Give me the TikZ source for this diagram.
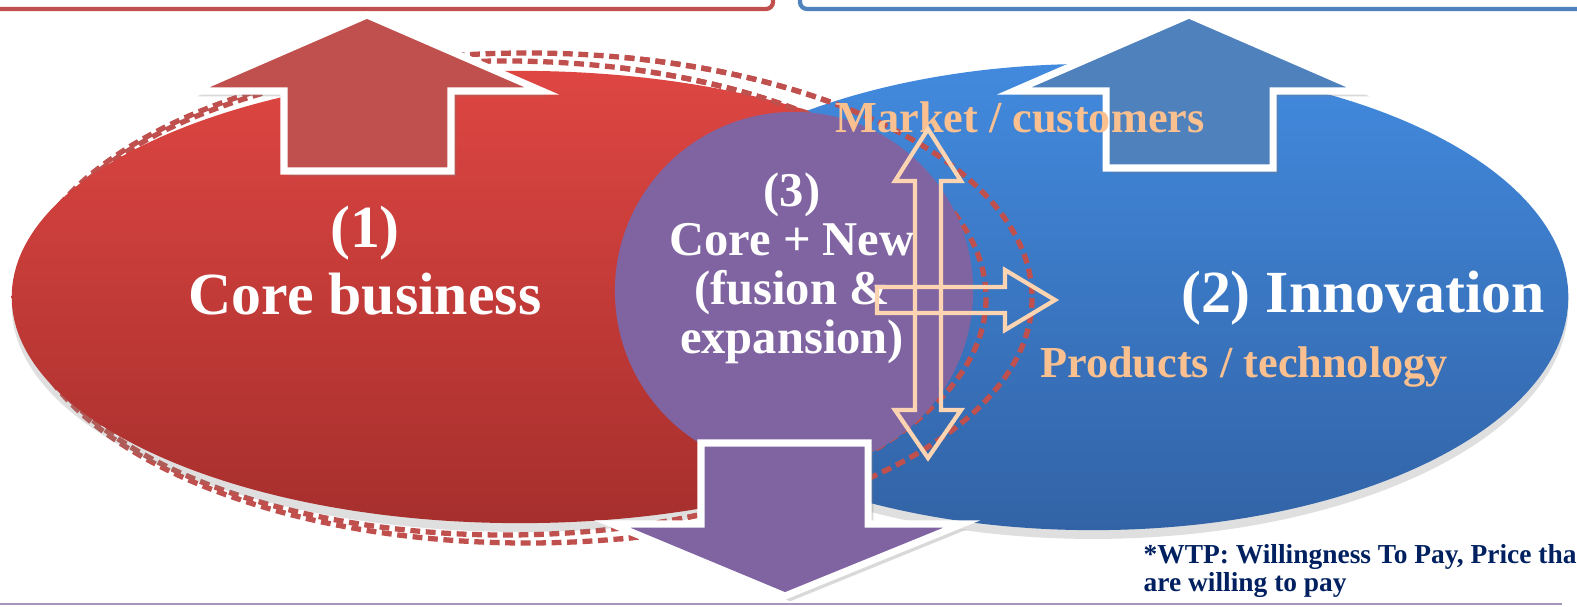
\documentclass[tikz,border=0pt]{standalone}
\usepackage{fontspec}
\setmainfont{Liberation Serif}
\usepackage{tikz}
\usetikzlibrary{shapes.geometric, shadows}

\definecolor{coreRed}{RGB}{192,80,77}
\definecolor{coreRedTop}{RGB}{222,70,66}
\definecolor{coreRedBot}{RGB}{166,47,45}
\definecolor{innoBlue}{RGB}{79,129,189}
\definecolor{innoBlueTop}{RGB}{66,138,222}
\definecolor{innoBlueBot}{RGB}{50,99,166}
\definecolor{fusionPurple}{RGB}{128,100,162}
\definecolor{peach}{RGB}{250,192,144}
\definecolor{peachLine}{RGB}{252,212,178}
\definecolor{noteNavy}{RGB}{0,32,96}

% the two dashed rings round core + fusion
\newcommand{\fusionrings}{%
  \draw[ring] (505,298) ellipse [x radius=481, y radius=237];
  \draw[ring] (527,298) ellipse [x radius=505, y radius=245];}

\begin{document}
\begin{tikzpicture}[
    x=0.01cm, y=-0.01cm,
    area/.style={ellipse, inner sep=0pt, drop shadow={opacity=0.25, shadow xshift=0pt, shadow yshift=-2.5pt}},
    ring/.style={draw=coreRed, line width=1.5pt, dash pattern=on 2.8pt off 1.6pt},
    fatarrow/.style={draw=white, line width=2pt, line join=miter, drop shadow={opacity=0.3, shadow xshift=1.5pt, shadow yshift=-1.5pt}},
    thinarrow/.style={draw=peachLine, line width=1.2pt, line join=miter},
    frame/.style={line width=1.2pt, rounded corners=2pt},
    bigtext/.style={text=white, anchor=base, inner sep=0pt, font=\fontsize{17}{20}\selectfont\bfseries},
    midtext/.style={text=white, anchor=base, inner sep=0pt, font=\fontsize{13.8}{15}\selectfont\bfseries},
    axistext/.style={text=peach, anchor=base, inner sep=0pt, font=\fontsize{12.6}{14}\selectfont\bfseries},
    note/.style={text=noteNavy, anchor=base west, inner sep=0pt, font=\fontsize{7.8}{9}\selectfont\bfseries}
]
\useasboundingbox (0,0) rectangle (1577,607);

% Boxes at the top
\draw[frame, coreRed] (-20,-40) rectangle (773,9);
\draw[frame, innoBlue] (800,-40) rectangle (1620,9);

% Rings (left part ends up behind the core area)
\fusionrings

% Core business area
\node[area, minimum width=10.16cm, minimum height=4.52cm, top color=coreRedTop, bottom color=coreRedBot] (core) at (520,297) {};

% Innovation area
\node[area, minimum width=9.5cm, minimum height=4.66cm, top color=innoBlueTop, bottom color=innoBlueBot] (inno) at (1093,297) {};

% Rings again, right part on top of innovation
\begin{scope}
  \clip (620,0) rectangle (1577,607);
  \fusionrings
\end{scope}

% Fusion area
\node[ellipse, inner sep=0pt, minimum width=3.58cm, minimum height=3.58cm, fill=fusionPurple] (fusion) at (794,291) {};

% Big arrows
\draw[fatarrow, fill=coreRed] (284,171) -- (284,91) -- (192,91) -- (367,15) -- (542,91) -- (451,91) -- (451,171) -- cycle;
\draw[fatarrow, fill=innoBlue] (1106,168) -- (1106,91) -- (1014,91) -- (1189,15) -- (1364,91) -- (1273,91) -- (1273,168) -- cycle;
\draw[fatarrow, fill=fusionPurple] (701,443) -- (868,443) -- (868,524) -- (962,524) -- (785,596) -- (612,524) -- (701,524) -- cycle;

% Labels
\node[bigtext] (one) at (365,248) {(1)};
\node[bigtext] (coretext) at (365,315) {Core business};
\node[bigtext] (innotext) at (1363,313) {(2) Innovation};
\node[midtext] (three) at (792,207) {(3)};
\node[midtext] (fusion1) at (792,256) {Core + New};
\node[midtext] (fusion2) at (792,305) {(fusion \&};
\node[midtext] (fusion3) at (792,354) {expansion)};
\node[axistext] (market) at (1020,133) {Market / customers};
\node[axistext] (products) at (1244,378) {Products / technology};

% Axes (outline arrows)
\draw[thinarrow] (915,181) -- (895,181) -- (928,129) -- (961,181) -- (941,181) -- (941,410) -- (961,410) -- (928,458) -- (895,410) -- (915,410) -- cycle;
\draw[thinarrow] (877,287) -- (1005,287) -- (1005,270) -- (1055,300) -- (1005,330) -- (1005,313) -- (877,313) -- cycle;

% Footnote
\draw[fusionPurple!70, line width=0.6pt] (0,604) -- (1562,604);
\node[note] (wtp) at (1143,563) {*WTP: Willingness To Pay, Price tha};
\node[note] (wtp2) at (1143,591) {are willing to pay};

\end{tikzpicture}
\end{document}
